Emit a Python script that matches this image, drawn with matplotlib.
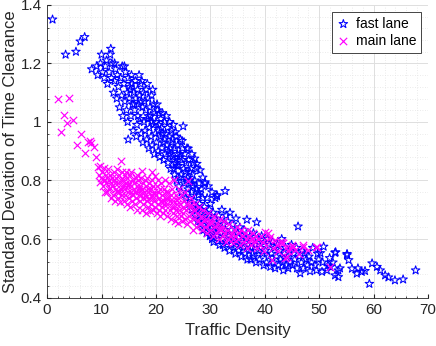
import matplotlib
matplotlib.use("Agg")
import matplotlib.pyplot as plt
from matplotlib.ticker import MultipleLocator

# fast lane samples (traffic density, std of time clearance)
fast_x = [
    1.0, 3.4, 5.3, 6.1, 6.9, 8.2, 9.1, 10.0, 11.6, 11.7, 12.4, 14.2, 14.9,
    9.3, 9.8, 10.2, 10.5, 10.7, 10.9, 11.1, 11.4, 11.8, 11.9,
    12.2, 12.4, 12.6, 12.8, 12.9, 13.1, 13.3, 13.5, 13.7, 13.8, 13.9,
    14.1, 14.3, 14.4, 14.6, 14.7, 14.9, 14.8,
    15.1, 15.2, 15.4, 15.5, 15.7, 15.8, 15.9, 15.6,
    16.1, 16.2, 16.3, 16.5, 16.6, 16.7, 16.8, 16.9, 16.4,
    17.0, 17.1, 17.2, 17.3, 17.5, 17.6, 17.7, 17.8, 17.9, 17.4,
    18.0, 18.1, 18.2, 18.3, 18.5, 18.6, 18.7, 18.8, 18.9, 18.4,
    19.0, 19.1, 19.2, 19.3, 19.5, 19.6, 19.7, 19.8, 19.9, 19.4,
    20.0, 20.1, 20.2, 20.4, 20.5, 20.6, 20.7, 20.8, 20.9, 20.3,
    21.0, 21.1, 21.2, 21.4, 21.5, 21.6, 21.7, 21.8, 21.9, 21.3,
    22.0, 22.1, 22.2, 22.4, 22.5, 22.6, 22.7, 22.8, 22.9, 22.3,
    23.0, 23.1, 23.2, 23.4, 23.5, 23.6, 23.7, 23.8, 23.9, 23.3,
    24.0, 24.1, 24.2, 24.4, 24.5, 24.6, 24.7, 24.8, 24.9, 24.3,
    25.0, 25.1, 25.2, 25.3, 25.5, 25.6, 25.7, 25.8, 25.9, 25.4,
    26.0, 26.1, 26.2, 26.4, 26.5, 26.6, 26.7, 26.8, 26.9, 26.3,
    27.0, 27.1, 27.2, 27.4, 27.5, 27.6, 27.7, 27.8, 27.9, 27.3,
    28.0, 28.1, 28.3, 28.4, 28.6, 28.7, 28.9, 28.5,
    29.0, 29.1, 29.3, 29.4, 29.6, 29.8, 29.9, 29.5,
    30.0, 30.2, 30.3, 30.5, 30.7, 30.8, 30.6, 30.9,
    31.0, 31.2, 31.3, 31.5, 31.7, 31.8, 31.9,
    32.1, 32.2, 32.4, 32.6, 32.7, 32.8, 32.9,
    33.0, 33.2, 33.4, 33.5, 33.6, 33.8, 33.9,
    34.1, 34.3, 34.4, 34.6, 34.7, 34.9,
    35.0, 35.2, 35.4, 35.5, 35.7, 35.9,
    36.0, 36.2, 36.4, 36.5, 36.7, 36.8, 36.9,
    37.1, 37.3, 37.4, 37.6, 37.8, 37.9,
    38.0, 38.2, 38.4, 38.5, 38.7, 38.9,
    39.0, 39.2, 39.4, 39.6, 39.8, 39.9,
    40.1, 40.3, 40.5, 40.7, 40.9, 41.0,
    41.2, 41.4, 41.6, 41.8, 41.9,
    42.1, 42.3, 42.5, 42.7, 42.9,
    43.1, 43.3, 43.4, 43.6, 43.8, 43.9,
    44.1, 44.3, 44.5, 44.7, 44.9,
    45.1, 45.3, 45.5, 45.8, 45.9,
    46.1, 46.3, 46.5, 46.7, 46.9,
    47.1, 47.3, 47.6, 47.8,
    48.1, 48.3, 48.6, 48.8,
    49.2, 49.5, 49.7, 49.9,
    50.2, 50.5, 50.8, 50.6,
    51.4, 51.6, 51.9, 52.0,
    52.5, 52.9, 52.9, 53.0,
    53.5, 53.5, 53.8,
    55.1, 55.1, 55.4, 56.0,
    56.9, 57.1, 57.8, 58.4, 59.2, 59.7, 60.6, 61.2, 62.1, 62.7, 63.9, 65.4, 67.7,
    # extra fill in the dense part of the band
    16.0, 18.6, 20.5, 22.6, 24.4, 26.2, 28.2, 29.7, 31.4, 27.8, 25.6, 23.3,
    21.2, 19.3, 17.3, 15.3, 23.9, 26.7, 28.8, 30.4, 32.3, 34.0, 35.6, 37.5,
    # right edge of the upper band
    25.9, 26.6, 27.1, 27.5, 28.1, 28.6, 29.0, 29.6, 30.3, 31.2, 24.8, 23.6,
]
fast_y = [
    1.35, 1.23, 1.24, 1.275, 1.29, 1.18, 1.19, 1.23, 1.23, 1.25, 1.20, 1.19, 0.94,
    1.16, 1.20, 1.17, 1.15, 1.19, 1.21, 1.13, 1.17, 1.15, 1.20,
    1.10, 1.14, 1.18, 1.08, 1.16, 1.12, 1.05, 1.15, 1.09, 1.19, 1.02,
    1.13, 1.07, 1.17, 1.04, 1.10, 1.15, 1.00,
    1.08, 1.12, 1.02, 1.16, 1.06, 0.97, 1.10, 1.13,
    1.04, 1.14, 1.08, 0.99, 1.11, 1.02, 1.06, 1.16, 0.95,
    1.09, 1.01, 1.13, 0.96, 1.05, 0.93, 1.10, 1.00, 1.07, 1.14,
    0.97, 1.04, 1.11, 0.94, 1.01, 1.08, 0.91, 0.98, 1.05, 1.13,
    1.02, 0.95, 1.09, 0.92, 0.99, 1.06, 0.89, 1.03, 0.96, 1.11,
    1.00, 0.93, 1.06, 0.90, 0.97, 1.03, 0.88, 0.95, 1.01, 1.04,
    0.98, 0.91, 1.03, 0.87, 0.94, 1.00, 0.89, 0.96, 1.02, 0.93,
    0.92, 0.98, 0.86, 0.95, 1.00, 0.89, 0.84, 0.93, 0.97, 0.90,
    0.88, 0.94, 0.99, 0.82, 0.91, 0.86, 0.95, 0.80, 0.89, 0.84,
    0.92, 0.85, 0.78, 0.88, 0.94, 0.82, 0.76, 0.87, 0.91, 0.81,
    0.985, 0.84, 0.79, 0.89, 0.74, 0.86, 0.91, 0.81, 0.77, 0.83,
    0.87, 0.72, 0.80, 0.84, 0.76, 0.70, 0.82, 0.78, 0.86, 0.74,
    0.73, 0.80, 0.68, 0.77, 0.84, 0.71, 0.66, 0.75, 0.79, 0.70,
    0.72, 0.65, 0.77, 0.69, 0.74, 0.63, 0.71, 0.67,
    0.79, 0.68, 0.62, 0.74, 0.66, 0.70, 0.61, 0.64,
    0.72, 0.65, 0.60, 0.69, 0.63, 0.67, 0.59, 0.74,
    0.64, 0.75, 0.61, 0.68, 0.58, 0.66, 0.62,
    0.70, 0.60, 0.65, 0.57, 0.764, 0.63, 0.68,
    0.59, 0.66, 0.61, 0.56, 0.69, 0.63, 0.58,
    0.65, 0.57, 0.61, 0.55, 0.67, 0.59,
    0.62, 0.56, 0.64, 0.58, 0.54, 0.61,
    0.57, 0.63, 0.55, 0.60, 0.666, 0.53, 0.58,
    0.56, 0.61, 0.53, 0.59, 0.55, 0.62,
    0.54, 0.58, 0.52, 0.657, 0.60, 0.56,
    0.53, 0.57, 0.61, 0.55, 0.51, 0.59,
    0.56, 0.52, 0.60, 0.54, 0.58, 0.505,
    0.55, 0.59, 0.52, 0.57, 0.50,
    0.54, 0.58, 0.51, 0.56, 0.53,
    0.60, 0.52, 0.493, 0.55, 0.57, 0.51,
    0.54, 0.50, 0.56, 0.52, 0.58,
    0.51, 0.55, 0.53, 0.57, 0.50,
    0.643, 0.54, 0.483, 0.52, 0.56,
    0.50, 0.55, 0.53, 0.51,
    0.54, 0.49, 0.52, 0.57,
    0.51, 0.493, 0.55, 0.53,
    0.552, 0.488, 0.574, 0.52,
    0.493, 0.51, 0.535, 0.505,
    0.52, 0.476, 0.553, 0.555,
    0.47, 0.493, 0.50,
    0.549, 0.545, 0.528, 0.499,
    0.482, 0.50, 0.488, 0.491, 0.447, 0.517, 0.505, 0.493, 0.476, 0.469, 0.459, 0.462, 0.493,
    1.06, 1.02, 0.99, 0.91, 0.89, 0.83, 0.70, 0.68, 0.64, 0.76, 0.80, 0.87,
    0.96, 1.00, 1.07, 1.11, 0.85, 0.79, 0.66, 0.62, 0.58, 0.60, 0.59, 0.57,
    0.909, 0.89, 0.875, 0.857, 0.835, 0.81, 0.794, 0.78, 0.76, 0.746, 0.935, 0.965,
]

# main lane samples
main_x = [
    2.0, 4.1, 3.1, 4.7, 3.6, 2.6, 6.2, 5.5, 7.5, 8.1, 8.7, 6.9, 8.9, 13.5, 9.4, 10.5,
    17.4, 19.2, 10.7, 7.8,
    9.5, 9.7, 9.8, 9.9,
    10.1, 10.2, 10.4, 10.6, 10.8, 10.9,
    11.0, 11.1, 11.3, 11.4, 11.5, 11.7, 11.8, 11.9,
    12.0, 12.1, 12.2, 12.3, 12.5, 12.6, 12.7, 12.8, 12.9, 12.4,
    13.0, 13.1, 13.2, 13.3, 13.4, 13.5, 13.6, 13.7, 13.8, 13.9,
    14.0, 14.1, 14.2, 14.3, 14.4, 14.5, 14.6, 14.7, 14.8, 14.9, 14.45,
    15.0, 15.1, 15.2, 15.3, 15.4, 15.5, 15.6, 15.7, 15.8, 15.9, 15.35,
    16.0, 16.1, 16.2, 16.3, 16.4, 16.5, 16.6, 16.7, 16.8, 16.9, 16.45,
    17.0, 17.1, 17.2, 17.3, 17.4, 17.5, 17.6, 17.7, 17.8, 17.9, 17.55,
    18.0, 18.1, 18.2, 18.3, 18.4, 18.5, 18.6, 18.7, 18.8, 18.9, 18.45,
    19.0, 19.1, 19.2, 19.3, 19.4, 19.5, 19.6, 19.7, 19.8, 19.9, 19.45,
    20.0, 20.1, 20.2, 20.3, 20.4, 20.5, 20.6, 20.7, 20.8, 20.9, 20.45,
    21.0, 21.1, 21.2, 21.3, 21.4, 21.5, 21.6, 21.7, 21.8, 21.9, 21.45,
    22.0, 22.1, 22.2, 22.3, 22.4, 22.5, 22.6, 22.7, 22.8, 22.9,
    23.0, 23.1, 23.2, 23.3, 23.4, 23.5, 23.6, 23.7, 23.8, 23.9,
    24.0, 24.1, 24.2, 24.3, 24.5, 24.6, 24.7, 24.8, 24.9,
    25.0, 25.1, 25.3, 25.4, 25.5, 25.7, 25.8, 25.9,
    26.0, 26.1, 26.3, 26.4, 26.6, 26.8, 26.9,
    27.0, 27.2, 27.3, 27.5, 27.7, 27.9,
    28.0, 28.2, 28.4, 28.6, 28.8,
    29.0, 29.2, 29.4, 29.6, 29.8,
    30.0, 30.2, 30.5, 30.7, 30.9,
    31.1, 31.3, 31.6, 31.8, 31.9,
    32.1, 32.3, 32.5, 32.7, 32.9,
    33.1, 33.3, 33.5, 33.7, 33.9,
    34.1, 34.2, 34.4, 34.6, 34.8,
    35.0, 35.3, 35.5, 35.7, 35.9,
    36.1, 36.3, 36.6, 36.8, 36.9,
    37.1, 37.3, 37.5, 37.8, 37.9,
    38.1, 38.4, 38.6, 38.8,
    39.1, 39.3, 39.6, 39.9,
    40.0, 40.3, 40.6, 40.8,
    41.0, 41.3, 41.5, 41.9,
    42.2, 42.5, 42.8,
    43.2, 43.4, 43.7, 43.9,
    44.0, 44.3, 44.6, 44.9,
    45.2, 45.6, 46.2, 47.0, 47.1, 48.0, 49.4, 49.6, 52.0,
    # extra fill in the dense core
    11.6, 12.9, 14.2, 15.6, 16.8, 18.2, 19.6, 21.0, 22.4, 23.8, 25.2, 26.5, 28.3, 30.1, 31.5,
]
main_y = [
    1.078, 1.082, 1.024, 1.007, 0.995, 0.966, 0.958, 0.92, 0.932, 0.929, 0.915, 0.895, 0.88, 0.868, 0.847, 0.842,
    0.834, 0.83, 0.80, 0.935,
    0.82, 0.795, 0.85, 0.81,
    0.83, 0.78, 0.80, 0.76, 0.82, 0.79,
    0.76, 0.84, 0.80, 0.77, 0.82, 0.74, 0.79, 0.81,
    0.78, 0.75, 0.83, 0.80, 0.73, 0.77, 0.81, 0.76, 0.84, 0.79,
    0.74, 0.79, 0.82, 0.76, 0.725, 0.80, 0.77, 0.83, 0.75, 0.78,
    0.80, 0.73, 0.77, 0.82, 0.75, 0.79, 0.72, 0.81, 0.76, 0.78, 0.83,
    0.74, 0.79, 0.71, 0.82, 0.76, 0.78, 0.73, 0.80, 0.75, 0.77, 0.83,
    0.79, 0.72, 0.76, 0.81, 0.74, 0.78, 0.70, 0.80, 0.75, 0.77, 0.82,
    0.73, 0.78, 0.81, 0.75, 0.70, 0.77, 0.79, 0.72, 0.76, 0.80, 0.74,
    0.75, 0.69, 0.78, 0.81, 0.73, 0.76, 0.71, 0.79, 0.74, 0.695, 0.77,
    0.77, 0.72, 0.80, 0.75, 0.70, 0.78, 0.73, 0.76, 0.815, 0.71, 0.74,
    0.75, 0.69, 0.78, 0.72, 0.80, 0.74, 0.70, 0.77, 0.68, 0.73, 0.76,
    0.79, 0.71, 0.75, 0.69, 0.77, 0.73, 0.80, 0.70, 0.74, 0.76, 0.72,
    0.72, 0.68, 0.76, 0.74, 0.79, 0.70, 0.73, 0.67, 0.75, 0.71,
    0.77, 0.69, 0.73, 0.80, 0.71, 0.66, 0.75, 0.70, 0.72, 0.68,
    0.74, 0.656, 0.70, 0.77, 0.72, 0.68, 0.75, 0.66, 0.71,
    0.69, 0.73, 0.67, 0.76, 0.70, 0.65, 0.72, 0.798,
    0.68, 0.71, 0.66, 0.74, 0.69, 0.632, 0.70,
    0.67, 0.72, 0.64, 0.69, 0.66, 0.71,
    0.65, 0.68, 0.63, 0.70, 0.66,
    0.64, 0.67, 0.62, 0.69, 0.65,
    0.63, 0.66, 0.61, 0.68, 0.64,
    0.62, 0.65, 0.60, 0.67, 0.63,
    0.64, 0.61, 0.66, 0.62, 0.59,
    0.63, 0.60, 0.65, 0.61, 0.62,
    0.60, 0.587, 0.63, 0.61, 0.64,
    0.60, 0.62, 0.58, 0.63, 0.61,
    0.59, 0.62, 0.60, 0.57, 0.63,
    0.61, 0.597, 0.58, 0.62, 0.60,
    0.59, 0.61, 0.57, 0.60,
    0.58, 0.61, 0.59, 0.56,
    0.625, 0.58, 0.62, 0.60,
    0.608, 0.528, 0.57, 0.597,
    0.58, 0.56, 0.59,
    0.59, 0.587, 0.535, 0.57,
    0.538, 0.56, 0.568, 0.58,
    0.573, 0.563, 0.55, 0.573, 0.58, 0.563, 0.574, 0.573, 0.505,
    0.775, 0.765, 0.785, 0.755, 0.765, 0.745, 0.755, 0.725, 0.745, 0.735, 0.705, 0.715, 0.655, 0.655, 0.635,
]

plt.rcParams["font.family"] = ["Liberation Sans", "DejaVu Sans"]

fig = plt.figure(figsize=(4.36, 3.46), dpi=100)
ax = fig.add_axes([0.108, 0.14, 0.874, 0.846])

ax.scatter(fast_x, fast_y, s=42, marker="*", facecolors="none", edgecolors=(0, 0, 1),
           linewidths=0.75, label="fast lane", zorder=3)
ax.scatter(main_x, main_y, s=28, marker="x", color=(1, 0, 1), linewidths=0.85,
           label="main lane", zorder=4)

ax.set_xlim(0, 70); ax.set_ylim(0.4, 1.4)
ax.xaxis.set_major_locator(MultipleLocator(10)); ax.xaxis.set_minor_locator(MultipleLocator(2))
ax.yaxis.set_major_locator(MultipleLocator(0.2)); ax.yaxis.set_minor_locator(MultipleLocator(0.04))
ax.yaxis.set_major_formatter(matplotlib.ticker.FuncFormatter(lambda v, _: f"{v:g}"))

ax.grid(which="major", color="#dedede", lw=0.7)
ax.grid(which="minor", color="#e4e4e4", lw=0.6, ls=(0, (1, 2)))
ax.set_axisbelow(True)
for side in ("top", "right"):
    ax.spines[side].set_visible(False)
for side in ("left", "bottom"):
    ax.spines[side].set_color("#262626"); ax.spines[side].set_linewidth(0.6)
ax.tick_params(which="both", direction="in", colors="#262626", labelsize=11)
ax.tick_params(which="major", length=3, pad=4)
ax.tick_params(which="minor", length=1.5)

ax.set_xlabel("Traffic Density", fontsize=12, color="#262626", labelpad=4)
ax.set_ylabel("Standard Deviation of Time Clearance", fontsize=12, color="#262626", labelpad=2)

leg = ax.legend(loc="upper right", fontsize=10, fancybox=False, framealpha=1,
                edgecolor="#262626", borderaxespad=0.5, handletextpad=0.4,
                handlelength=1.0, borderpad=0.35, labelspacing=0.25)
leg.get_frame().set_linewidth(0.6)

fig.savefig("out.png", dpi=100)
